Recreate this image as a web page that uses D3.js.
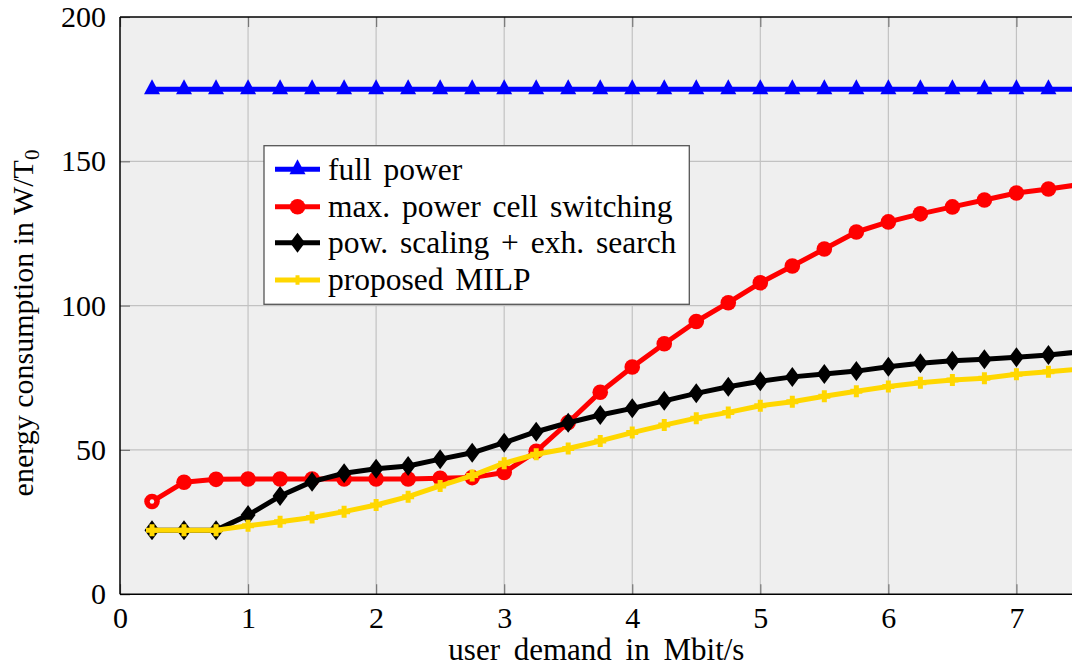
<!DOCTYPE html>
<html>
<head>
<meta charset="utf-8">
<script src="https://cdn.jsdelivr.net/npm/d3@7"></script>
<style>
html,body{margin:0;padding:0;background:#fff;overflow:hidden;}
svg text{font-family:"Liberation Serif",Tinos,"Times New Roman","DejaVu Serif",serif;fill:#000;}
</style>
</head>
<body>
<svg id="chart" width="1072" height="668"></svg>
<script>
const xValues = [0.25,0.5,0.75,1,1.25,1.5,1.75,2,2.25,2.5,2.75,3,3.25,3.5,3.75,4,4.25,4.5,4.75,5,5.25,5.5,5.75,6,6.25,6.5,6.75,7,7.25,7.5];
const fullPower = [175,175,175,175,175,175,175,175,175,175,175,175,175,175,175,175,175,175,175,175,175,175,175,175,175,175,175,175,175,175];
const maxPowerCellSwitching = [32.1,38.8,39.8,39.9,39.9,39.9,39.9,39.9,39.9,40.2,40.4,42.2,49.5,59.5,70,78.7,86.8,94.5,101,107.9,113.7,119.6,125.5,129,131.8,134.2,136.6,139,140.4,142];
const powScalingExhSearch = [22.2,22.2,22.2,27.4,34,39,41.9,43.5,44.4,46.8,49,52.5,56.3,59.4,62.1,64.4,67,69.6,71.9,73.8,75.3,76.3,77.3,78.8,80,80.9,81.4,82.1,82.9,84];
const proposedMILP = [22.2,22.2,22.2,23.7,25.1,26.6,28.6,30.9,33.8,37.5,41.1,45.4,48.5,50.5,53.1,56,58.6,61,63,65.3,66.7,68.6,70.3,72,73.3,74.2,74.8,76.2,77.1,78];
const xTicks = [0,1,2,3,4,5,6,7];
const yTicks = [0,50,100,150,200];
const seriesNames = ["full power","max. power cell switching","pow. scaling + exh. search","proposed MILP"];
const seriesColors = ["#0000ff","#ff0000","#000000","#ffd700"];
const seriesMarkers = ["triangle","circle","diamond","plus"];
const xLabel = "user demand in Mbit/s";
const yLabel = "energy consumption in W/T";

const FONT = '"Liberation Serif",Tinos,"Times New Roman","DejaVu Serif",serif';
const svg = d3.select("#chart");
const L = 120, T = 17, B = 594.2;
const x = d3.scaleLinear().domain([0,8]).range([L, L + 8*128.06]);
const y = d3.scaleLinear().domain([0,200]).range([B, T]);
const R = x(8);

svg.append("rect").attr("x",L).attr("y",T).attr("width",R-L).attr("height",B-T).attr("fill","#efefef");

// grid
const g = svg.append("g");
g.selectAll(".gx").data(xTicks.filter(d=>d>0)).join("line")
  .attr("x1",d=>x(d)).attr("x2",d=>x(d)).attr("y1",T).attr("y2",B)
  .attr("stroke","#c2c2c2").attr("stroke-width",1.2);
g.selectAll(".gy").data(yTicks.filter(d=>d>0&&d<200)).join("line")
  .attr("x1",L).attr("x2",R).attr("y1",d=>y(d)).attr("y2",d=>y(d))
  .attr("stroke","#c2c2c2").attr("stroke-width",1.2);

// axes using d3 axis (inner ticks)
const xAxisB = d3.axisBottom(x).tickValues(xTicks).tickSize(-10).tickPadding(13).tickFormat(d3.format("d"));
const xAxisT = d3.axisTop(x).tickValues(xTicks).tickSize(-10).tickFormat("");
const yAxisL = d3.axisLeft(y).tickValues(yTicks).tickSize(-10).tickPadding(14).tickFormat(d3.format("d"));
const axB = svg.append("g").attr("transform",`translate(0,${B})`).call(xAxisB);
const axT = svg.append("g").attr("transform",`translate(0,${T})`).call(xAxisT);
const axL = svg.append("g").attr("transform",`translate(${L},0)`).call(yAxisL);
[axB,axT,axL].forEach(a=>{
  a.attr("font-family",FONT);
  a.select(".domain").remove();
  a.selectAll(".tick line").attr("stroke","#777").attr("stroke-width",1.2);
  a.selectAll("text").attr("font-size",30).style("font-family",FONT);
});
axB.selectAll("text").attr("dy","0.7em");
axL.selectAll("text").attr("dy","0.32em");

// data lines
const data = [fullPower, maxPowerCellSwitching, powScalingExhSearch, proposedMILP];
const line = d3.line().x((d,i)=>x(xValues[i])).y(d=>y(d));
svg.append("clipPath").attr("id","clip").append("rect").attr("x",L-20).attr("y",T-20).attr("width",R-L+40).attr("height",B-T+40);

function drawMarker(sel, type, color, size){
  const s = size||1;
  if(type==="triangle"){
    sel.append("path").attr("d",`M0,${-10*s}L${8*s},${5*s}L${-8*s},${5*s}Z`).attr("fill",color);
  } else if(type==="circle"){
    sel.append("circle").attr("r",7.8*s).attr("fill",color);
  } else if(type==="diamond"){
    sel.append("path").attr("d",`M0,${-10*s}L${7.5*s},0L0,${10*s}L${-7.5*s},0Z`).attr("fill",color);
  } else if(type==="plus"){
    sel.append("path").attr("d",`M${-2.5*s},${-6*s}H${2.5*s}V${-2.5*s}H${6*s}V${2.5*s}H${2.5*s}V${6*s}H${-2.5*s}V${2.5*s}H${-6*s}V${-2.5*s}H${-2.5*s}Z`).attr("fill",color);
  }
}

const plot = svg.append("g").attr("clip-path","url(#clip)");
data.forEach((vals,k)=>{
  const gs = plot.append("g");
  gs.append("path").datum(vals).attr("d",line).attr("fill","none")
    .attr("stroke",seriesColors[k]).attr("stroke-width",5).attr("stroke-linejoin","round");
  vals.forEach((v,i)=>{
    const m = gs.append("g").attr("transform",`translate(${x(xValues[i])},${y(v)})`);
    drawMarker(m, seriesMarkers[k], seriesColors[k]);
    if(k===1 && i===0) m.append("circle").attr("r",2.2).attr("fill","#f4f4f4");
  });
});

// frame
svg.append("line").attr("x1",L).attr("x2",L).attr("y1",T).attr("y2",B).attr("stroke","#000").attr("stroke-width",1.5);
svg.append("line").attr("x1",L).attr("x2",R).attr("y1",B).attr("y2",B).attr("stroke","#000").attr("stroke-width",1.5);
svg.append("line").attr("x1",L).attr("x2",R).attr("y1",T).attr("y2",T).attr("stroke","#000").attr("stroke-width",1.5);

// labels
svg.append("text").attr("x",x(3.72)).attr("y",660).attr("text-anchor","middle").attr("font-size",31).attr("word-spacing",6).style("font-family",FONT).text(xLabel);
const yl = svg.append("text").attr("transform","translate(33,323) rotate(-90)").attr("text-anchor","middle").attr("font-size",30).style("font-family",FONT);
yl.append("tspan").text(yLabel);
yl.append("tspan").attr("font-size",21).attr("dy",6).text("0");

// legend
const lg = svg.append("g");
lg.append("rect").attr("x",264).attr("y",145.7).attr("width",425.3).attr("height",158.6).attr("fill","#fff").attr("stroke","#555").attr("stroke-width",1.3);
const rowY = [169.3,206.7,242.7,280];
seriesNames.forEach((nm,k)=>{
  lg.append("line").attr("x1",275).attr("x2",320).attr("y1",rowY[k]).attr("y2",rowY[k]).attr("stroke",seriesColors[k]).attr("stroke-width",5);
  const m = lg.append("g").attr("transform",`translate(297.5,${rowY[k]})`);
  drawMarker(m, seriesMarkers[k], seriesColors[k], k===3?0.8:1);
  lg.append("text").attr("x",328).attr("y",rowY[k]).attr("dy","0.33em").attr("font-size",31.5).attr("word-spacing",4).style("font-family",FONT).text(nm);
});
</script>
</body>
</html>
